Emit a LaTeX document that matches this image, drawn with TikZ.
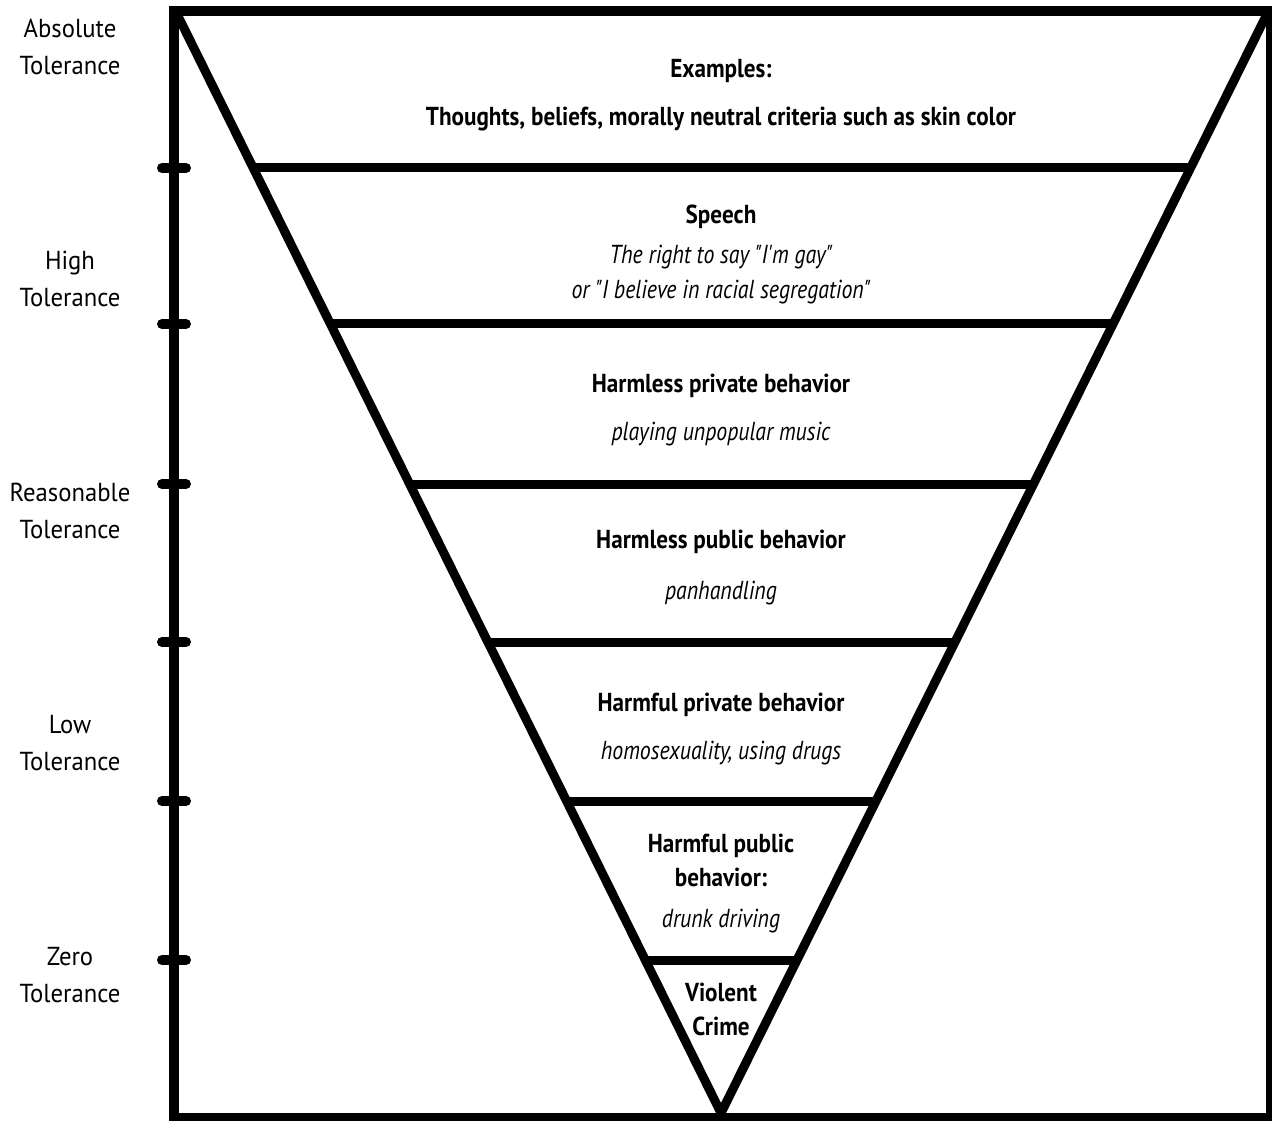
\documentclass[tikz,border=0pt]{standalone}
\usepackage{fontspec}
\setmainfont{PT Sans}
\newfontfamily\levelfont{PT Sans}[FakeStretch=0.95]
\newfontfamily\headfont{PT Sans}[FakeStretch=0.89]
\newfontfamily\notefont{PT Sans}[FakeStretch=0.84]
\newcommand{\dq}{\symbol{34}}
\newcommand{\sq}{\symbol{39}}
\usetikzlibrary{positioning}
\usetikzlibrary{calc}
\tikzset{
    frame/.style = {line width=10pt,draw=black},
    funnel/.style = {line width=9pt,draw=black,line join=miter},
    band/.style = {line width=9pt,draw=black},
    tick/.style = {line width=10pt,draw=black,line cap=round},
    level/.style = {align=center,font=\levelfont\fontsize{26}{37}\selectfont},
    head/.style = {align=center,font=\headfont\fontsize{26}{34}\selectfont\bfseries},
    note/.style = {align=center,font=\notefont\fontsize{26}{35}\selectfont\itshape}
}
\begin{document}
\begin{tikzpicture}[x=1pt,y=-1pt]
\useasboundingbox (0,0) rectangle (1272,1120);
% outer frame
\draw[frame] (174,11) rectangle (1271,1118);
% funnel
\coordinate (tl) at (176,12);
\coordinate (tr) at (1268,12);
\coordinate (apex) at (721,1113);
\draw[funnel] (tl) -- (apex) -- (tr);
% bands and ticks
\foreach \y/\n in {168/1,324/2,484/3,642/4,801/5,960/6}{
  \coordinate (l\n) at ($(tl)!{(\y-12)/1101}!(apex)$);
  \coordinate (r\n) at ($(tr)!{(\y-12)/1101}!(apex)$);
  \draw[band] (l\n) -- (r\n);
  \draw[tick] (162,\y) -- (186,\y);
}
%
\node[level] at (70, 47) (absolute) {Absolute\\Tolerance};
\node[level] at (70,279) (high) {High\\Tolerance};
\node[level] at (70,511) (reasonable) {Reasonable\\Tolerance};
\node[level] at (70,743) (low) {Low\\Tolerance};
\node[level] at (70,975) (zero) {Zero\\Tolerance};
%
\node[head] at (721, 71) (examples) {Examples:};
\node[head] at (721,119) (thoughts) {Thoughts, beliefs, morally neutral criteria such as skin color};
\node[head] at (721,217) (speech) {Speech};
\node[note] at (721,275) (speechn) {The right to say \dq I\sq m gay\dq\\or \dq I believe in racial segregation\dq};
\node[head] at (721,386) (hprivate) {Harmless private behavior};
\node[note] at (721,434) (hprivaten) {playing unpopular music};
\node[head] at (721,542) (hpublic) {Harmless public behavior};
\node[note] at (721,593) (hpublicn) {panhandling};
\node[head] at (721,705) (fprivate) {Harmful private behavior};
\node[note] at (721,753) (fprivaten) {homosexuality, using drugs};
\node[head] at (721,860) (fpublic) {Harmful public\\behavior:};
\node[note] at (721,921) (fpublicn) {drunk driving};
\node[head] at (721,1009) (violent) {Violent\\Crime};
\end{tikzpicture}
\end{document}
